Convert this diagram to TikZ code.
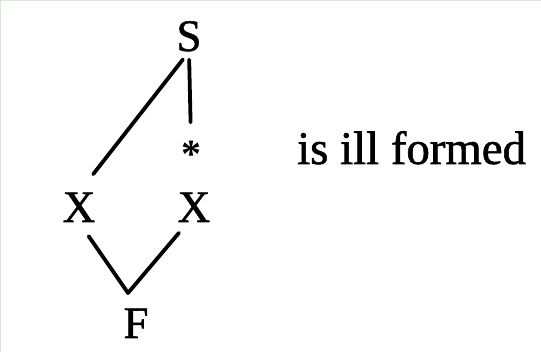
\documentclass[tikz,border=0pt]{standalone}
\usepackage{fontspec}
\setmainfont{Liberation Serif}
\newfontfamily\heavyserif{Liberation Serif}[FakeBold=1.2]
\begin{document}
\begin{tikzpicture}[x=1pt,y=-1pt,
  lbl/.style={inner sep=0pt,anchor=base,font=\fontsize{45}{50}\selectfont\heavyserif},
  starlbl/.style={inner sep=0pt,anchor=base,font=\fontsize{40}{44}\selectfont\bfseries},
  txt/.style={inner sep=0pt,anchor=base west,font=\fontsize{46.8}{52}\selectfont\heavyserif},
  edge/.style={line width=3.8pt,line cap=round,line join=round}]
\useasboundingbox (0,0) rectangle (541,352);
\draw[line width=2pt,draw={rgb,255:red,212;green,236;blue,212}] (0,352) -- (0,0) -- (541,0);
\node[lbl] (S) at (189,51) {S};
\node[starlbl] (star) at (191,168) {*};
\node[lbl] (XL) at (79,222) {X};
\node[lbl] (XR) at (194,222) {X};
\node[lbl] (F) at (136,338) {F};
\node[txt] (T) at (297,164) {is ill formed};
\coordinate (apex) at (128,293);
\draw[edge,shorten <=10pt,shorten >=23pt] (S.south) -- (XL.north);
\draw[edge,shorten <=8pt,shorten >=19pt] (S.south) -- (star.north);
\draw[edge,shorten <=17pt,shorten >=14pt] (XL.south) -- (apex) -- ([xshift=-6pt]XR.south);
\end{tikzpicture}
\end{document}
